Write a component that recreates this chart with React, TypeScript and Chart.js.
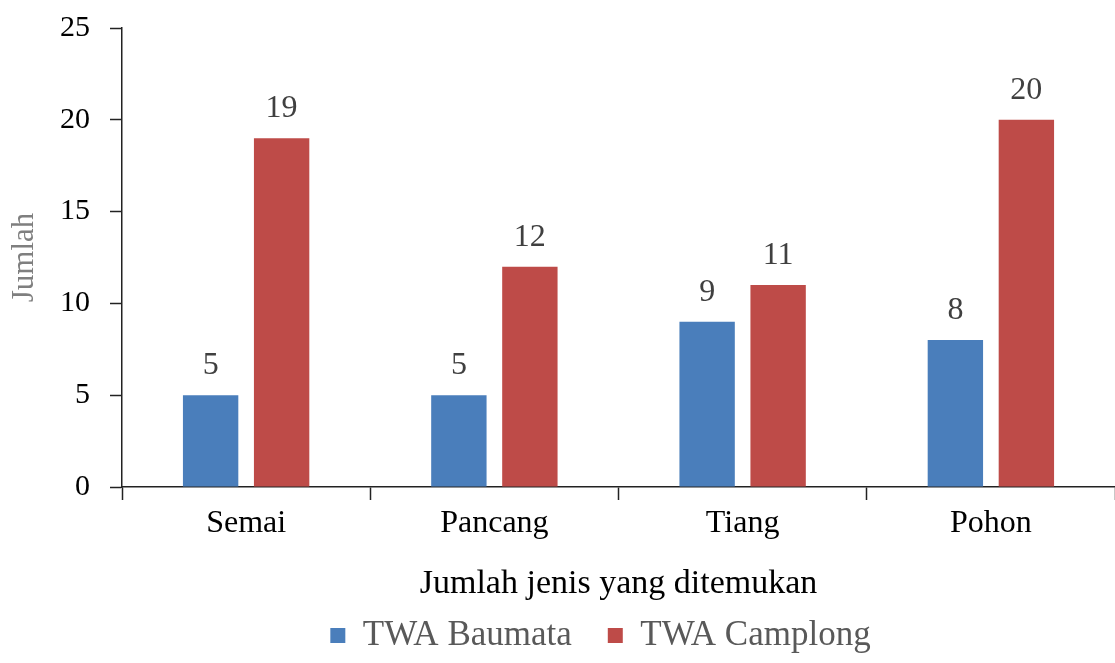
import React, { useEffect, useRef } from 'react';
import { Chart, registerables } from 'chart.js';

Chart.register(...registerables);

const categories = ['Semai', 'Pancang', 'Tiang', 'Pohon'];
const seriesNames = ['TWA Baumata', 'TWA Camplong'];
const baumata = [5, 5, 9, 8];
const camplong = [19, 12, 11, 20];
const yTicks = [0, 5, 10, 15, 20, 25];
const xTitle = 'Jumlah jenis yang ditemukan';
const yTitle = 'Jumlah';
const seriesColors = ['#4A7EBB', '#BE4B48'];

const SERIF = "'Liberation Serif', 'Times New Roman', serif";

const valueLabels = {
  id: 'valueLabels',
  afterDatasetsDraw(chart: any) {
    const ctx = chart.ctx;
    ctx.save();
    ctx.font = `32px ${SERIF}`;
    ctx.fillStyle = '#404040';
    ctx.textAlign = 'center';
    ctx.textBaseline = 'alphabetic';
    chart.data.datasets.forEach((ds: any, i: number) => {
      const meta = chart.getDatasetMeta(i);
      meta.data.forEach((el: any, j: number) => {
        ctx.fillText(String(ds.data[j]), el.x, el.y - 21);
      });
    });
    ctx.restore();
  },
};

const legendShift = {
  id: 'legendShift',
  afterLayout(chart: any) {
    if (chart.legend) {
      chart.legend.left -= 18;
      chart.legend.right -= 18;
    }
  },
};

export default function App() {
  const canvasRef = useRef<HTMLCanvasElement | null>(null);

  useEffect(() => {
    const canvas = canvasRef.current;
    if (!canvas) return;
    const chart = new Chart(canvas, {
      type: 'bar',
      data: {
        labels: categories,
        datasets: [
          {
            label: seriesNames[0],
            data: baumata,
            backgroundColor: seriesColors[0],
            categoryPercentage: 0.572,
            barPercentage: 0.78,
          },
          {
            label: seriesNames[1],
            data: camplong,
            backgroundColor: seriesColors[1],
            categoryPercentage: 0.572,
            barPercentage: 0.78,
          },
        ],
      },
      options: {
        responsive: false,
        animation: false,
        layout: { padding: { top: 28, left: 0, right: -7, bottom: 0 } },
        plugins: {
          legend: {
            display: true,
            position: 'bottom',
            fullSize: false,
            labels: {
              boxWidth: 15,
              boxHeight: 15,
              padding: 36,
              color: '#595959',
              font: { family: SERIF, size: 35 },
            },
          },
          tooltip: { enabled: false },
        },
        scales: {
          x: {
            grid: {
              display: true,
              drawOnChartArea: false,
              drawTicks: true,
              tickLength: 13,
              tickColor: '#222',
              tickWidth: 1.5,
              offset: true,
            },
            border: { display: true, color: '#222', width: 1.5 },
            ticks: {
              color: '#000',
              padding: 4,
              font: { family: SERIF, size: 32 },
            },
            title: {
              display: true,
              text: xTitle,
              color: '#000',
              font: { family: SERIF, size: 34 },
              padding: { top: 0, bottom: -22 },
            },
            afterFit(scale: any) {
              scale.height = 95;
              scale.paddingLeft = 0;
              scale.paddingRight = -7;
              scale.paddingTop = 0;
              scale.paddingBottom = 0;
            },
          },
          y: {
            min: 0,
            max: 25,
            afterBuildTicks(scale: any) {
              scale.ticks = yTicks.map((v) => ({ value: v }));
            },
            grid: {
              display: true,
              drawOnChartArea: false,
              drawTicks: true,
              tickLength: 12,
              tickColor: '#222',
              tickWidth: 1.5,
            },
            border: { display: true, color: '#222', width: 1.5 },
            ticks: {
              color: '#000',
              padding: 20,
              font: { family: SERIF, size: 30 },
            },
            title: {
              display: true,
              text: yTitle,
              color: '#7F7F7F',
              font: { family: SERIF, size: 31 },
              padding: { top: 6, bottom: 0 },
            },
            afterFit(scale: any) {
              scale.width = 122;
              scale.paddingTop = 0;
              scale.paddingBottom = 0;
              scale.paddingLeft = 0;
              scale.paddingRight = -7;
            },
          },
        },
      },
      plugins: [valueLabels, legendShift],
    });
    return () => chart.destroy();
  }, []);

  return (
    <div style={{ position: 'absolute', left: 0, top: 0, width: 1115, height: 663, background: '#fff' }}>
      <canvas ref={canvasRef} width={1115} height={663} />
    </div>
  );
}
